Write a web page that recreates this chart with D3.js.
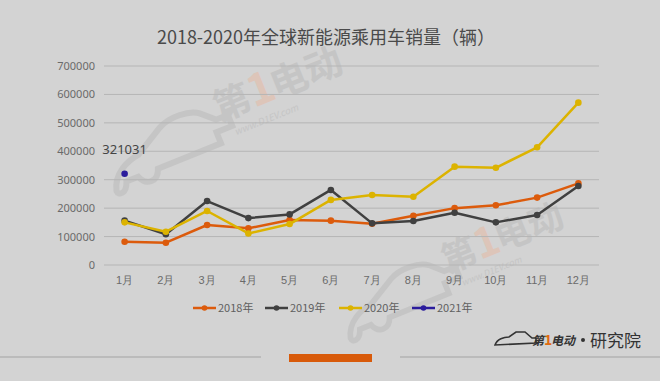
<!DOCTYPE html>
<html><head><meta charset="utf-8">
<script src="https://cdn.jsdelivr.net/npm/d3@7"></script>
<style>html,body{margin:0;padding:0;background:#d3d3d3;}svg{display:block;font-family:"Noto Sans CJK SC","Noto Sans",sans-serif;}</style>
</head><body><svg id="c" width="660" height="381"></svg>
<script>
const months = ["1月","2月","3月","4月","5月","6月","7月","8月","9月","10月","11月","12月"];
const yTicks = [0,100000,200000,300000,400000,500000,600000,700000];
const s2018 = [82000,78400,140700,129000,158000,156000,145000,173000,200000,210000,237000,287000];
const s2019 = [156000,108000,225000,165000,178000,264000,146500,155000,184000,150000,176000,278000];
const s2020 = [150000,117000,190000,111000,144000,229000,246000,240000,346000,342000,414000,571000];
const s2021 = [321031];
const seriesNames = ["2018年","2019年","2020年","2021年"];
const seriesColors = ["#dc5b0c","#404040","#dcb300","#2b1c9c"];
const seriesData = [s2018,s2019,s2020,s2021];
const title = "2018-2020年全球新能源乘用车销量（辆）";

const svg = d3.select("#c");
svg.append("rect").attr("width",660).attr("height",381).attr("fill","#d3d3d3");

// watermarks
function watermark(x,y,scale){
  const g = svg.append("g").attr("transform",`translate(${x},${y}) rotate(-22) scale(${scale})`).attr("opacity",0.5);
  g.append("path").attr("d","M-95,20 C-90,0 -70,-8 -55,-10 L-20,-30 C-5,-38 20,-36 30,-28 L45,-14 L60,-14 L60,0 L40,0 L40,14 L-40,14 C-45,28 -60,28 -65,14 L-80,14 C-85,28 -95,26 -95,20 Z")
    .attr("fill","none").attr("stroke","#b8b8b8").attr("stroke-width",7);
  g.append("text").attr("x",48).attr("y",-10).attr("font-size",44).attr("font-weight","bold").attr("fill","#b8b8b8").text("第");
  g.append("text").attr("x",92).attr("y",-10).attr("font-size",52).attr("font-weight","bold").attr("fill","#e8b8a0").text("1");
  g.append("text").attr("x",120).attr("y",-10).attr("font-size",44).attr("font-weight","bold").attr("fill","#b8b8b8").text("电动");
  g.append("text").attr("x",60).attr("y",12).attr("font-size",11).attr("font-style","italic").attr("fill","#b8b8b8").text("www.D1EV.com");
}
watermark(185,145,0.85);
watermark(415,295,0.8);

const x = d3.scaleBand().domain(months).range([104,599]);
const y = d3.scaleLinear().domain([0,700000]).range([265,66]);

// grid
svg.append("g").selectAll("line").data(yTicks).join("line")
  .attr("x1",104).attr("x2",599).attr("y1",d=>y(d)).attr("y2",d=>y(d))
  .attr("stroke","#b5b5b5").attr("stroke-width",1);

const yAxis = svg.append("g").attr("transform","translate(104,0)")
  .call(d3.axisLeft(y).tickValues(yTicks).tickSize(0).tickPadding(9).tickFormat(d3.format("d")));
yAxis.select(".domain").remove();
yAxis.selectAll("text").attr("font-size",11).attr("fill","#6a6a6a").attr("font-family","'Noto Sans',sans-serif");

const xAxis = svg.append("g").attr("transform","translate(0,270)")
  .call(d3.axisBottom(x).tickSize(0).tickPadding(6));
xAxis.select(".domain").remove();
xAxis.selectAll("text").attr("font-size",11).attr("fill","#6a6a6a");

// title
svg.append("text").attr("x",326).attr("y",44).attr("text-anchor","middle")
  .attr("font-size",18).attr("fill","#4a4a4a").text(title);

// lines
const line = d3.line().x((d,i)=>x(months[i])+x.bandwidth()/2).y(d=>y(d));
seriesData.forEach((data,k)=>{
  const g = svg.append("g");
  if(data.length>1) g.append("path").attr("d",line(data)).attr("fill","none")
    .attr("stroke",seriesColors[k]).attr("stroke-width",2.5).attr("stroke-linejoin","round");
  g.selectAll("circle").data(data).join("circle")
    .attr("cx",(d,i)=>x(months[i])+x.bandwidth()/2).attr("cy",d=>y(d)).attr("r",3.3)
    .attr("fill",seriesColors[k]);
});
// data label for 2021
svg.append("text").attr("x",x(months[0])+x.bandwidth()/2).attr("y",y(s2021[0])-20)
  .attr("text-anchor","middle").attr("font-size",13).attr("fill","#444")
  .attr("font-family","'Noto Sans',sans-serif").text(d3.format("d")(s2021[0]));

// legend
const legX = [193,265,339,412];
seriesNames.forEach((n,k)=>{
  const g = svg.append("g").attr("transform",`translate(${legX[k]},308)`);
  g.append("line").attr("x1",0).attr("x2",23).attr("stroke",seriesColors[k]).attr("stroke-width",2.5);
  g.append("circle").attr("cx",11.5).attr("r",2.8).attr("fill",seriesColors[k]);
  g.append("text").attr("x",25).attr("y",4).attr("font-size",11).attr("fill","#606060").text(n);
});

// footer
svg.append("line").attr("x1",0).attr("x2",261).attr("y1",357).attr("y2",357).attr("stroke","#b3b3b3").attr("stroke-width",1.5);
svg.append("line").attr("x1",400).attr("x2",660).attr("y1",357).attr("y2",357).attr("stroke","#b3b3b3").attr("stroke-width",1.5);
svg.append("rect").attr("x",289).attr("y",354).attr("width",83).attr("height",8).attr("fill","#d85a0a");

const fl = svg.append("g").attr("transform","translate(494,348)");
fl.append("path").attr("d","M1,-3 C3,-9 10,-11 15,-11 L22,-16 L31,-16 L38,-10 L42,-10 L42,-5 L1,-3 Z")
  .attr("fill","none").attr("stroke","#333").attr("stroke-width",1.6);
fl.append("text").attr("x",38).attr("y",-3).attr("font-size",12).attr("font-weight","bold").attr("font-style","italic").attr("fill","#333").text("第");
fl.append("text").attr("x",50).attr("y",-3).attr("font-size",14).attr("font-weight","bold").attr("fill","#e06a10").text("1");
fl.append("text").attr("x",57).attr("y",-3).attr("font-size",12).attr("font-weight","bold").attr("font-style","italic").attr("fill","#333").text("电动");
fl.append("circle").attr("cx",89).attr("cy",-8).attr("r",2).attr("fill","#333");
fl.append("text").attr("x",96).attr("y",-1).attr("font-size",17).attr("fill","#333").text("研究院");
</script></body></html>
